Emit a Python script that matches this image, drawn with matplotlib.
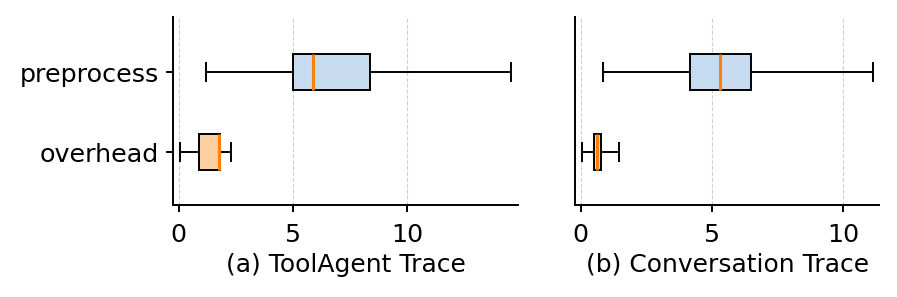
import numpy as np
import matplotlib
matplotlib.use("Agg")
import matplotlib.pyplot as plt

# box stats (seconds)
labels = ["overhead", "preprocess"]
titles = ["(a) ToolAgent Trace", "(b) Conversation Trace"]

tool_overhead = dict(whislo=0.04, q1=0.89, med=1.75, q3=1.80, whishi=2.29)
tool_preprocess = dict(whislo=1.17, q1=4.99, med=5.89, q3=8.38, whishi=14.56)
conv_overhead = dict(whislo=0.04, q1=0.51, med=0.63, q3=0.76, whishi=1.47)
conv_preprocess = dict(whislo=0.86, q1=4.18, med=5.30, q3=6.48, whishi=11.13)

traces = [[tool_overhead, tool_preprocess], [conv_overhead, conv_preprocess]]
xlims = [(-0.25, 14.87), (-0.2, 11.38)]
colors = ["#fdd0a2", "#c6dbef"]

fig = plt.figure(figsize=(8.97, 2.97), dpi=100)
axes = [fig.add_axes([0.193, 0.310, 0.3845, 0.633]),
        fig.add_axes([0.6414, 0.310, 0.3389, 0.633])]

for ax, stats, title, xl in zip(axes, traces, titles, xlims):
    for s, lab in zip(stats, labels):
        s["label"] = lab
    bp = ax.bxp(stats, positions=[1, 2], widths=0.45, vert=False,
                showfliers=False, patch_artist=True,
                boxprops=dict(linewidth=1.4, edgecolor="black"),
                whiskerprops=dict(linewidth=1.4),
                capprops=dict(linewidth=1.4),
                medianprops=dict(color="#ff7f0e", linewidth=2.2))
    for patch, c in zip(bp["boxes"], colors):
        patch.set_facecolor(c)
    ax.set_xlim(*xl)
    ax.set_ylim(0.34, 2.69)
    ax.set_xticks([0, 5, 10])
    ax.grid(axis="x", linestyle="--", color="#d0d0d0", linewidth=0.8)
    ax.set_axisbelow(True)
    ax.spines["top"].set_visible(False)
    ax.spines["right"].set_visible(False)
    ax.spines["left"].set_linewidth(1.4)
    ax.spines["bottom"].set_linewidth(1.4)
    ax.tick_params(axis="both", labelsize=18.3, width=1.4, length=5)
    ax.tick_params(axis="x", pad=8)
    ax.tick_params(axis="y", pad=5.5)
    ax.set_xlabel(title, fontsize=18, labelpad=4)

axes[1].tick_params(axis="y", left=False)
axes[1].set_yticklabels([])

fig.savefig("out.png", dpi=100)
